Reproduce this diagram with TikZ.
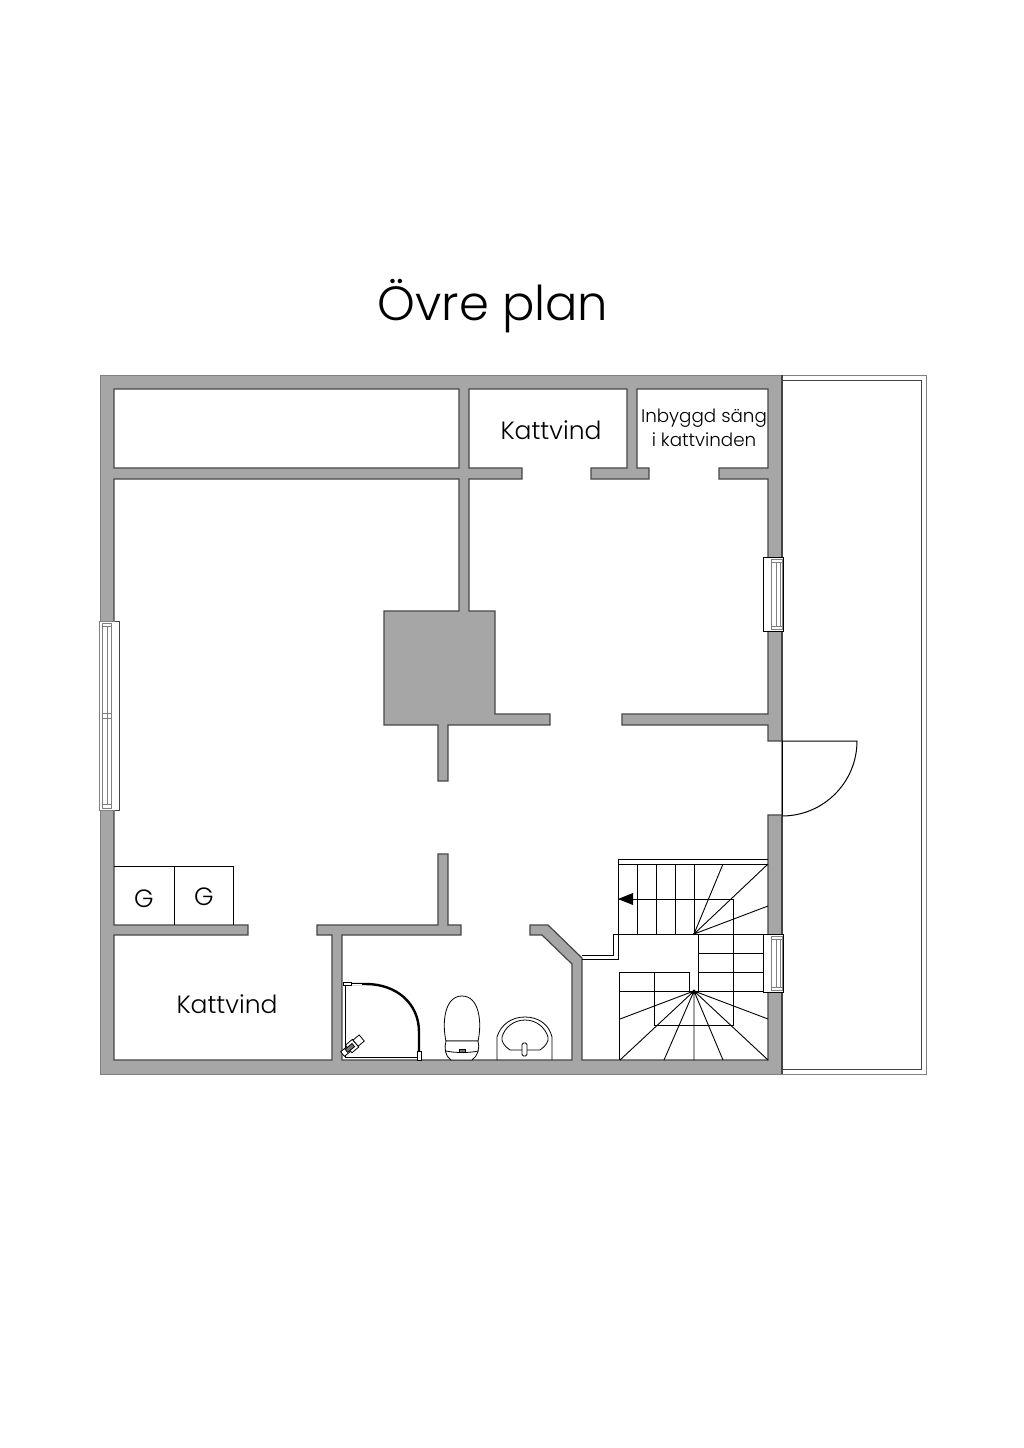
\documentclass[tikz,border=0pt]{standalone}
\usepackage{fontspec}
\setmainfont{Poppins}[UprightFont=* Light]
\definecolor{wallc}{HTML}{A6A6A6}
\definecolor{edgec}{HTML}{444444}
\tikzset{
  wallline/.style={draw=edgec,line width=1.2pt,line join=miter},
  thin line/.style={draw=black,line width=1pt},
  stairline/.style={draw=black,line width=.9pt},
  fixline/.style={draw=black,line width=.8pt},
  winline/.style={draw=edgec,line width=.9pt},
  lbl/.style={inner sep=0pt,text=black}
}
\begin{document}
\begin{tikzpicture}[x=1pt,y=-1pt]
\useasboundingbox[fill=white] (0,0) rectangle (1024,1448);
% balcony
\draw[draw=gray,line width=.9pt] (782,375) -- (926,375) -- (926,1074) -- (782,1074);
\draw[wallline,line width=1pt] (782,380) -- (921,380) -- (921,1069) -- (782,1069);
% walls
\fill[wallc] (100,375) rectangle (782,1074);
\draw[draw=gray,line width=.9pt] (782,375) -- (100,375) -- (100,1074) -- (782,1074);
\draw[wallline] (782,375) -- (782,741) (782,815) -- (782,1074);
% rooms: the closed room and the connected interior
\draw[wallline,fill=white] (114,389) -- (459,389) -- (459,468) -- (114,468) -- cycle
  (114,479) -- (459,479) -- (459,611) -- (384,611) -- (384,725) -- (438,725) -- (438,781) -- (448,781) -- (448,725) -- (550,725) -- (550,714) -- (495,714) -- (495,611) -- (469,611) -- (469,479) -- (522,479) -- (522,468) -- (469,468) -- (469,389) -- (627,389) -- (627,468) -- (591,468) -- (591,479) -- (649,479) -- (649,468) -- (637,468) -- (637,389) -- (768,389) -- (768,468) -- (719,468) -- (719,479) -- (768,479) -- (768,714) -- (622,714) -- (622,725) -- (768,725) -- (768,741) -- (782,741) -- (782,815) -- (768,815) -- (768,1060) -- (582,1060) -- (582,958) -- (548,925) -- (530,925) -- (530,935) -- (542,935) -- (572,964) -- (572,1060) -- (342,1060) -- (342,935) -- (461,935) -- (461,925) -- (448,925) -- (448,854) -- (438,854) -- (438,925) -- (317,925) -- (317,935) -- (332,935) -- (332,1060) -- (114,1060) -- (114,935) -- (248,935) -- (248,925) -- (114,925) -- cycle;
% left window
\fill[white] (99,621) rectangle (115,810);
\draw[winline] (115,621) -- (119,621) -- (119,810) -- (115,810);
\draw[winline,draw=gray] (99,621) -- (115,621) (99,810) -- (115,810) (99,621) -- (99,810);
\draw[winline,draw=gray] (102,623) rectangle (111,808);
\draw[winline,draw=gray] (107,626) -- (107,804) (102,626) -- (111,626) (102,804) -- (111,804) (102,713) -- (111,713) (102,718) -- (111,718);
% upper right window
\fill[white] (763,557) rectangle (783,631);
\draw[thin line] (763,557) rectangle (783,631);
\draw[winline,draw=gray] (771,559) rectangle (782,629);
\draw[winline,draw=gray] (776,562) rectangle (780,626) (771,562) -- (782,562) (771,626) -- (782,626);
% stairs
\draw[stairline] (618,859) -- (768,859) (618,864) -- (768,864) (618,859) -- (618,934);
\draw[stairline] (582,955) -- (613,955) -- (613,934) -- (768,934);
\draw[stairline] (582,959) -- (618,959) -- (618,934);
\draw[stairline] (637,864) -- (637,934) (656,864) -- (656,934) (675,864) -- (675,934) (694,864) -- (694,934);
\draw[stairline] (694,934) -- (723,864) (694,934) -- (768,864) (694,934) -- (768,906);
\draw[stairline] (618,899) -- (733,899) -- (733,1025) -- (654,1025) -- (654,972);
\draw[stairline] (619,1060) -- (619,972) -- (689,972) -- (689,991);
\draw[stairline] (619,991) -- (768,991);
\draw[stairline] (698,934) -- (698,991) (698,953) -- (768,953) (698,972) -- (768,972);
\draw[stairline] (694,991) -- (620,1019) (694,991) -- (620,1060) (694,991) -- (664,1060) (694,991) -- (694,1060) (694,991) -- (723,1060) (694,991) -- (768,1060) (694,991) -- (768,1019);
\fill[black] (618,899) -- (633,893) -- (633,905) -- cycle;
\fill[black] (694,991) circle (1.6);
\fill[black] (694,934) circle (1.2);
% lower right window
\fill[white] (763,934) rectangle (783,992);
\draw[thin line] (763,934) rectangle (783,992);
\draw[winline,draw=gray] (771,936) rectangle (782,990);
\draw[winline,draw=gray] (776,939) rectangle (780,987) (771,939) -- (782,939) (771,987) -- (782,987);
% door
\draw[thin line] (782,741) -- (857,741) arc[start angle=0,end angle=90,radius=75];
\draw[thin line] (782,741) -- (782,815);
% G boxes
\draw[thin line] (114,866) -- (233,866) -- (233,925) (174,866) -- (174,925);
% shower
\draw[fixline] (345,983) -- (345,1057) -- (419,1057);
\draw[draw=black,line width=2.4pt] (346,984) -- (366,984) .. controls (396,984) and (419,1003) .. (419,1032) -- (419,1053);
\draw[draw=white,line width=.5pt] (346,984) -- (362,984);
\draw[fixline,fill=white] (343,982) rectangle (351,985.5);
\draw[fixline,fill=white] (417,1051) rectangle (421,1060);
\begin{scope}[shift={(351,1047)},rotate=40]
\draw[fixline,fill=white] (-11,-3) rectangle (-3,3);
\draw[fixline,fill=white] (-3,-5) rectangle (6,5);
\draw[fixline,fill=black!55] (-6,-2) rectangle (3,2);
\draw[fixline,fill=white] (6,-4) rectangle (14,4);
\end{scope}
% toilet
\draw[fixline,fill=white] (446,1041) .. controls (442,1024) and (444,996) .. (462,996) .. controls (480,996) and (482,1024) .. (478,1041) -- cycle;
\draw[fixline,fill=white] (446,1041) -- (478,1041) .. controls (480,1048) and (478,1056) .. (472,1060) -- (451,1060) .. controls (445,1056) and (444,1048) .. (446,1041) -- cycle;
\draw[fixline] (446,1051) .. controls (455,1053) and (470,1053) .. (478,1051);
\draw[fixline,fill=black!55] (459,1049.5) rectangle (465,1052.5);
% sink
\draw[fixline] (497,1060) -- (497,1037) .. controls (501,1024) and (512,1017) .. (525,1017) .. controls (538,1017) and (549,1024) .. (552,1037) -- (552,1060);
\draw[fixline] (510,1050) .. controls (504,1046) and (501,1041) .. (502,1037) .. controls (505,1027) and (514,1020) .. (525,1020) .. controls (536,1020) and (545,1027) .. (548,1037) .. controls (549,1041) and (546,1046) .. (540,1050) -- cycle;
\draw[fixline,fill=white,rounded corners=1.5pt] (522,1043) rectangle (527,1056);
% texts
\node[lbl,font=\fontsize{48}{48}\selectfont] (title) at (493,306) {Övre plan};
\node[lbl,font=\fontsize{25}{25}\selectfont] (kv1) at (551,430) {Kattvind};
\node[lbl,font=\fontsize{25}{25}\selectfont] (kv2) at (227,1004) {Kattvind};
\node[lbl,font=\fontsize{18.3}{18.3}\selectfont] (ib1) at (704,418) {Inbyggd säng};
\node[lbl,font=\fontsize{18.3}{18.3}\selectfont] (ib2) at (704,440) {i kattvinden};
\node[lbl,font=\fontsize{25}{25}\selectfont] (g1) at (144,899) {G};
\node[lbl,font=\fontsize{25}{25}\selectfont] (g2) at (204,897) {G};
\end{tikzpicture}
\end{document}
